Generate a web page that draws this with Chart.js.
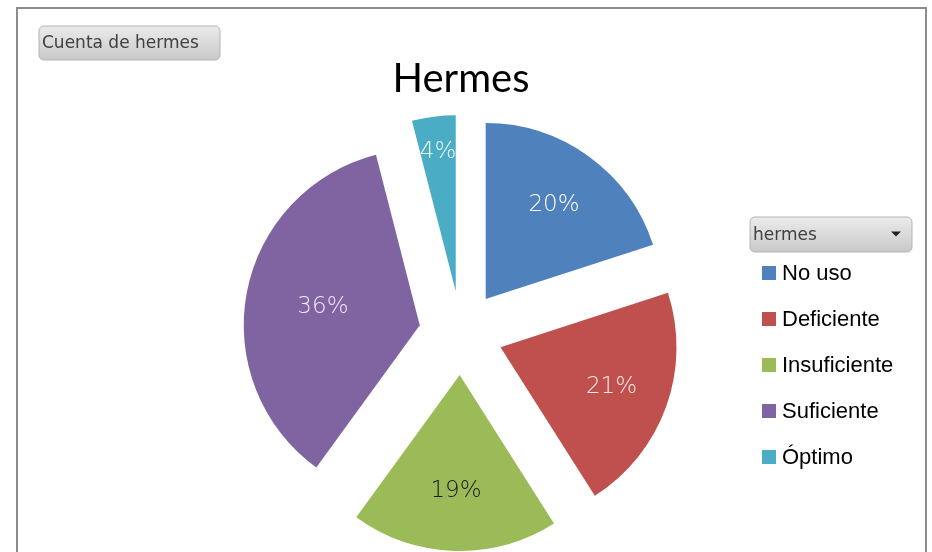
<!DOCTYPE html>
<html>
<head>
<meta charset="utf-8">
<script src="https://cdn.jsdelivr.net/npm/chart.js@4"></script>
<style>
  html, body { margin: 0; padding: 0; background: #fff; }
</style>
</head>
<body>
<canvas id="hermes-chart" width="932" height="552"></canvas>
<script>
let hermesLabels = ["No uso", "Deficiente", "Insuficiente", "Suficiente", "Óptimo"];
let hermesValues = [20, 21, 19, 36, 4];
let hermesColors = ["#4f81bd", "#c0504d", "#9bbb59", "#8064a2", "#4bacc6"];
let pctLabelColors = ["#ffffff", "#fde9e9", "#1a1a1a", "#efe8f7", "#eaf7fb"];
// how far out each % label sits (fraction of radius), Excel best-fit look
let pctLabelRadius = [0.66, 0.67, 0.66, 0.56, 0.8];
const EXPLODE = 42; // px each slice is pulled out

function pillButton(ctx, x, y, w, h, text, arrow) {
  const g = ctx.createLinearGradient(0, y, 0, y + h);
  g.addColorStop(0, "#ebebeb");
  g.addColorStop(1, "#c9c9c9");
  ctx.beginPath();
  ctx.roundRect(x, y, w, h, 5);
  ctx.fillStyle = g;
  ctx.fill();
  ctx.strokeStyle = "#b4b4b4";
  ctx.lineWidth = 1;
  ctx.stroke();
  ctx.fillStyle = "#404040";
  ctx.font = "17px 'DejaVu Sans'";
  ctx.textAlign = "left";
  ctx.textBaseline = "middle";
  ctx.fillText(text, x + 3, y + h / 2 + 1);
  if (arrow) {
    ctx.beginPath();
    ctx.moveTo(x + w - 21, y + h / 2 - 3);
    ctx.lineTo(x + w - 11, y + h / 2 - 3);
    ctx.lineTo(x + w - 16, y + h / 2 + 2);
    ctx.closePath();
    ctx.fillStyle = "#222";
    ctx.fill();
  }
}

function midAngle(arc) {
  const p = arc.getProps(["startAngle", "endAngle"]);
  return (p.startAngle + p.endAngle) / 2;
}

const excelLook = {
  id: "excelLook",
  beforeDraw(chart) {
    const ctx = chart.ctx;
    ctx.save();
    ctx.fillStyle = "#fff";
    ctx.fillRect(0, 0, chart.width, chart.height);
    ctx.strokeStyle = "#8c8c8c";
    ctx.lineWidth = 2;
    ctx.strokeRect(17, 8, 909, 560);
    pillButton(ctx, 39, 26, 181, 34, "Cuenta de hermes", false);
    pillButton(ctx, 750, 217, 162, 35, "hermes", true);
    ctx.restore();
  },
  // draw the slices exploded outward
  beforeDatasetsDraw(chart) {
    const ctx = chart.ctx;
    chart.getDatasetMeta(0).data.forEach((arc) => {
      const mid = midAngle(arc);
      ctx.save();
      ctx.translate(Math.cos(mid) * EXPLODE, Math.sin(mid) * EXPLODE);
      arc.draw(ctx);
      ctx.restore();
    });
    return false;
  },
  afterDraw(chart) {
    const ctx = chart.ctx;
    const meta = chart.getDatasetMeta(0);
    const data = chart.data.datasets[0].data;
    const total = data.reduce((a, b) => a + b, 0);
    ctx.save();
    ctx.font = "200 23px 'DejaVu Sans'";
    ctx.textAlign = "center";
    ctx.textBaseline = "middle";
    meta.data.forEach((arc, i) => {
      const p = arc.getProps(["x", "y", "outerRadius"]);
      const mid = midAngle(arc);
      const d = EXPLODE + pctLabelRadius[i] * p.outerRadius;
      ctx.fillStyle = pctLabelColors[i];
      ctx.fillText(Math.round(data[i] / total * 100) + "%", p.x + Math.cos(mid) * d, p.y + Math.sin(mid) * d);
    });
    // legend
    ctx.font = "22px 'Liberation Sans'";
    ctx.textAlign = "left";
    chart.data.labels.forEach((lab, i) => {
      const cy = 273 + i * 46;
      ctx.fillStyle = hermesColors[i];
      ctx.fillRect(762, cy - 7, 14, 14);
      ctx.fillStyle = "#000";
      ctx.fillText(lab, 782, cy + 1);
    });
    ctx.restore();
  },
};

const CanvasChart = document.getElementById("hermes-chart");

new Chart(CanvasChart, {
  type: "pie",
  data: {
    labels: hermesLabels,
    datasets: [
      {
        data: hermesValues,
        backgroundColor: hermesColors,
        borderWidth: 0,
        radius: 176,
      },
    ],
  },
  options: {
    responsive: false,
    animation: false,
    layout: {
      padding: { left: 0, right: 10, top: 0, bottom: 0 },
    },
    plugins: {
      legend: { display: false },
      tooltip: { enabled: false },
      title: {
        display: true,
        text: "Hermes",
        color: "#000",
        font: { family: "Lato", size: 40, weight: "normal" },
        padding: { top: 55, bottom: 11 },
      },
    },
  },
  plugins: [excelLook],
});
</script>
</body>
</html>
